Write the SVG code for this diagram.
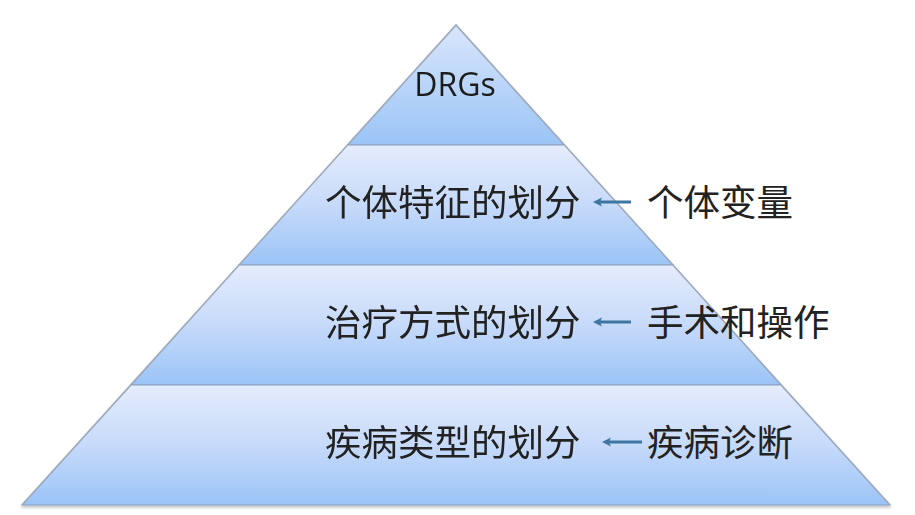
<svg xmlns="http://www.w3.org/2000/svg" width="915" height="515" viewBox="0 0 915 515">
  <defs>
    <linearGradient id="band" x1="0" y1="0" x2="0" y2="1">
      <stop offset="0" stop-color="#e5ecfc"/>
      <stop offset="0.5" stop-color="#c6dafa"/>
      <stop offset="1" stop-color="#9bc4f6"/>
    </linearGradient>
    <linearGradient id="apex" x1="0" y1="0" x2="0" y2="1">
      <stop offset="0" stop-color="#d9e6fb"/>
      <stop offset="1" stop-color="#9bc4f6"/>
    </linearGradient>
    <path id="head" d="M0,0 L9,-4.5 L7,0 L9,4.5 Z" fill="#3f75a3"/>
    <filter id="sh" x="-5%" y="-5%" width="110%" height="115%">
      <feGaussianBlur in="SourceAlpha" stdDeviation="1.5"/>
      <feOffset dx="0" dy="2"/>
      <feComponentTransfer><feFuncA type="linear" slope="0.25"/></feComponentTransfer>
      <feMerge><feMergeNode/><feMergeNode in="SourceGraphic"/></feMerge>
    </filter>
  </defs>
  <style>
    .band { stroke: #8aa0bd; stroke-width: 1.2; }
    .edge { fill: none; stroke: #a3acbb; stroke-width: 1.2; }
    .cn { font-family: "Noto Sans CJK SC", "Noto Sans", sans-serif; font-size: 36.5px; fill: #222222; }
    .en { font-family: "Open Sans", "Liberation Sans", sans-serif; font-size: 32px; fill: #1e1e1e; }
    .arrow { stroke: #3f75a3; stroke-width: 3; fill: none; }
  </style>
  <rect width="915" height="515" fill="#ffffff"/>
  <g filter="url(#sh)">
    <g id="layer-drgs">
      <polygon class="band" points="456,25 564.5,145 347.5,145" fill="url(#apex)"/>
      <text class="en" x="455" y="96" text-anchor="middle">DRGs</text>
    </g>
    <g id="layer-individual">
      <polygon class="band" points="347.5,145 564.5,145 673,265 239,265" fill="url(#band)"/>
      <text class="cn" x="325" y="216">个体特征的划分</text>
    </g>
    <g id="layer-treatment">
      <polygon class="band" points="239,265 673,265 781,385 131,385" fill="url(#band)"/>
      <text class="cn" x="325" y="336">治疗方式的划分</text>
    </g>
    <g id="layer-disease">
      <polygon class="band" points="131,385 781,385 890,505 22,505" fill="url(#band)"/>
      <text class="cn" x="325" y="456">疾病类型的划分</text>
    </g>
    <polyline class="edge" points="22,505 456,25 890,505"/>
  </g>
  <g id="label-individual-variables">
    <text class="cn" x="647" y="216">个体变量</text>
  </g>
  <g id="label-surgery">
    <text class="cn" x="647" y="336">手术和操作</text>
  </g>
  <g id="label-diagnosis">
    <text class="cn" x="647" y="456">疾病诊断</text>
  </g>
  <g id="connectors">
    <line class="arrow" x1="631" y1="202" x2="600" y2="202"/>
    <use href="#head" x="593" y="202"/>
    <line class="arrow" x1="631" y1="322" x2="600" y2="322"/>
    <use href="#head" x="593" y="322"/>
    <line class="arrow" x1="642" y1="442" x2="609" y2="442"/>
    <use href="#head" x="602" y="442"/>
  </g>
</svg>
